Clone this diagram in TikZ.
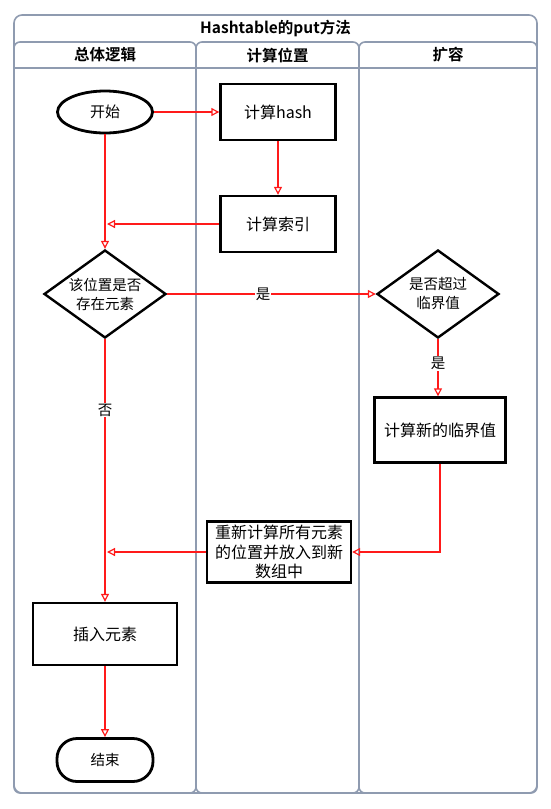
\documentclass[tikz,border=0pt]{standalone}
\usepackage{fontspec}
\setmainfont{Noto Sans CJK SC}[BoldFont={Noto Sans CJK SC Bold}]
\usetikzlibrary{arrows.meta,shapes.geometric}
\definecolor{lane}{HTML}{8F9BB0}
\definecolor{flow}{HTML}{FF1A1A}
\definecolor{ink}{HTML}{000000}

\begin{document}
\begin{tikzpicture}[x=1pt, y=-1pt,
  txt/.style={font=\fontsize{16}{19.5}\selectfont},
  small/.style={font=\fontsize{14.5}{19}\selectfont},
  head/.style={font=\fontsize{15.5}{18}\selectfont\bfseries},
  box/.style={txt, draw=ink, line width=2.4pt, fill=white, align=center,
    minimum width=115pt, minimum height=56pt},
  decision/.style={small, diamond, draw=ink, line width=2.4pt, fill=white, align=center,
    aspect=1.39, inner sep=0pt, minimum width=122pt, minimum height=88pt},
  terminal/.style={font=\fontsize{15}{18}\selectfont, ellipse, draw=ink, line width=2.8pt,
    fill=white, minimum width=95pt, minimum height=42pt},
  stadium/.style={small, draw=ink, line width=2.8pt, fill=white, rounded corners=20pt,
    minimum width=96pt, minimum height=43pt},
  flow/.style={draw=flow, line width=1.2pt, -{Triangle[open, length=8pt, width=8pt]}},
  tag/.style={small, fill=white, inner sep=1pt}
]
  \useasboundingbox (0,0) rectangle (550,809);

  % Pool and title
  \draw[lane, line width=1.6pt, rounded corners=8pt] (14,15) rectangle (537,793);
  \node[head] (title) at (275.5,28.5) {Hashtable的put方法};

  % Lanes with their headers
  \foreach \i/\xa/\xb/\name in {1/14/196/总体逻辑, 2/196/359/计算位置, 3/359/537/扩容} {
    \draw[lane, line width=1.6pt, rounded corners=6pt] (\xa,42) rectangle (\xb,793);
    \draw[lane, line width=1.6pt] (\xa,68) -- (\xb,68);
    \node[head] (head\i) at ({(\xa+\xb)/2},55) {\name};
  }

  % Steps
  \node[terminal] (start) at (105,112) {开始};
  \node[box] (hash) at (278,112) {计算hash};
  \node[box] (index) at (278,224) {计算索引};
  \node[decision] (exists) at (105,294) {该位置是否\\存在元素};
  \node[decision] (over) at (438,294) {是否超过\\临界值};
  \node[box, minimum width=131pt, minimum height=65pt] (newthr) at (440,430) {计算新的临界值};
  \node[box, minimum width=144pt, minimum height=61pt, inner sep=1pt] (rehash) at (279,552)
    {重新计算所有元素\\的位置并放入到新\\数组中};
  \node[box, minimum width=144pt, minimum height=62pt] (insert) at (105,634) {插入元素};
  \node[stadium] (end) at (105,760) {结束};

  % Free ends on the main line
  \coordinate (join1) at (107,224);
  \coordinate (join2) at (107,552);

  % Connectors
  \draw[flow] (start) -- (hash);
  \draw[flow] (start) -- (exists);
  \draw[flow] (hash) -- (index);
  \draw[flow] (index) -- (join1);
  \draw[flow] (exists) -- node[tag, pos=0.46] {是} (over);
  \draw[flow] (exists) -- node[tag, pos=0.27] {否} (insert);
  \draw[flow] (over.south) -- node[tag, pos=0.42] {是} (over.south |- newthr.north);
  \draw[flow] (newthr.south) |- (rehash.east);
  \draw[flow] (rehash) -- (join2);
  \draw[flow] (insert) -- (end);
\end{tikzpicture}
\end{document}
